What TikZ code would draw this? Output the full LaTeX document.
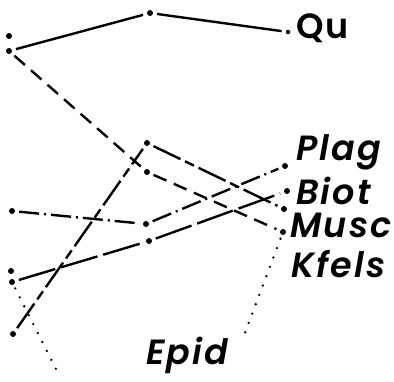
\documentclass[tikz,border=0pt]{standalone}
\usepackage{fontspec}
\setsansfont{Poppins}
\newfontfamily\lblfont{Poppins SemiBold}[ItalicFont={Poppins SemiBold Italic},LetterSpace=6]
\usetikzlibrary{positioning}
\tikzset{every picture/.style={/utils/exec={\sffamily}}}

\begin{document}
\begin{tikzpicture}[x=1pt,y=-1pt,
		pt/.style={circle,fill,inner sep=0pt,minimum size=6pt},
		spt/.style={circle,fill,inner sep=0pt,minimum size=4.5pt},
		lbl/.style={anchor=base west,inner sep=0pt,font=\fontsize{35}{35}\lblfont\itshape},
		link/.style={line width=2.4pt,shorten <=4pt,shorten >=4pt},
		quline/.style={link},
		muline/.style={link,dash pattern=on 14pt off 8pt},
		biline/.style={link,dash pattern=on 38pt off 6pt},
		plline/.style={link,dash pattern=on 20pt off 5pt on 2pt off 5pt},
		kfline/.style={link,dash pattern=on 30pt off 5pt on 10pt off 5pt},
		epline/.style={link,line width=2.6pt,line cap=round,dash pattern=on 0pt off 10pt}
	]
	\useasboundingbox (0,0) rectangle (394,381);
	\node (q1) [pt] at (9,36) {};
	\node (q0) [pt] at (9,51) {};
	\node (qm) [pt] at (150,13) {};
	\node (qr) [spt] at (288,32) {};
	\node (lp) [pt] at (12,211) {};
	\node (l4) [pt] at (11,271) {};
	\node (l5) [pt] at (12,282) {};
	\node (l6) [pt] at (13,334) {};
	\node (m2) [pt] at (147,143) {};
	\node (m3) [pt] at (147,172) {};
	\node (m4) [pt] at (146,224) {};
	\node (m5) [pt] at (149,241) {};
	\node (rplag) [pt] at (285,166) {};
	\node (rbiot) [pt] at (287,191) {};
	\node (rx) [pt] at (284,209) {};
	\node (rmusc) [pt] at (283,232) {};
	\coordinate (bot) at (62,381);
	\coordinate (ep) at (243,338);

	\node (qu) [lbl,font=\fontsize{35}{35}\lblfont] at (296,38) {Qu};
	\node (plag) [lbl] at (296,160) {Plag};
	\node (biot) [lbl] at (296,204) {Biot};
	\node (musc) [lbl] at (290,237) {Musc};
	\node (kfels) [lbl] at (291,277) {Kfels};
	\node (epid) [lbl] at (146,364) {Epid};

	\draw[quline] (q0) -- (qm);
	\draw[quline] (qm) -- (qr);
	\draw[muline] (q0) -- (m3);
	\draw[muline] (m3) -- (rmusc);
	\draw[kfline] (l6) -- (m2);
	\draw[kfline] (m2) -- (rx);
	\draw[plline] (lp) -- (m4);
	\draw[plline] (m4) -- (rplag);
	\draw[biline] (l5) -- (m5);
	\draw[biline] (m5) -- (rbiot);
	\draw[epline] (l5) -- (bot);
	\draw[epline] (rmusc) -- (ep);
\end{tikzpicture}
\end{document}
